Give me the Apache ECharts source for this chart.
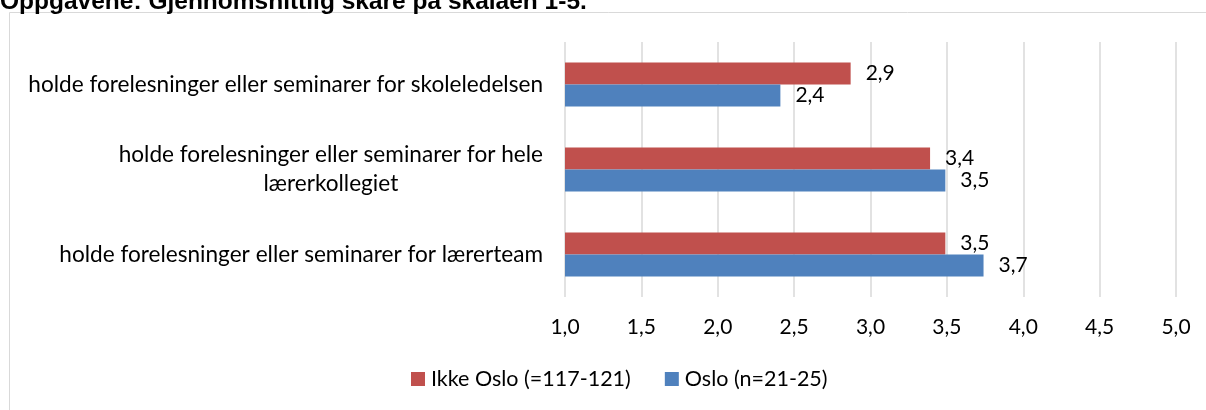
<!DOCTYPE html>
<html>
<head>
<meta charset="utf-8">
<script src="https://cdn.jsdelivr.net/npm/echarts@6/dist/echarts.min.js"></script>
<style>
  html, body { margin: 0; padding: 0; background: #fff; }
  #chart { width: 1206px; height: 410px; }
</style>
</head>
<body>
<div id="chart"></div>
<script>
// Mean scores on a 1–5 scale, Oslo vs. outside Oslo
const titleText = 'Oppgavene: Gjennomsnittlig skåre på skalaen 1-5.';
const categories = [
  'holde forelesninger eller seminarer for skoleledelsen',
  'holde forelesninger eller seminarer for hele\nlærerkollegiet',
  'holde forelesninger eller seminarer for lærerteam'
];
const seriesNames = ['Ikke Oslo (=117-121)', 'Oslo (n=21-25)'];
const ikkeOslo = [2.87, 3.39, 3.49];
const oslo = [2.41, 3.49, 3.74];
const axisTicks = [1, 1.5, 2, 2.5, 3, 3.5, 4, 4.5, 5];

const FONT = 'Lato, "Liberation Sans", sans-serif';
const fmt = v => Number(v).toFixed(1).replace('.', ',');

const chart = echarts.init(document.getElementById('chart'), null, { renderer: 'canvas' });

const labelStyle = {
  show: true,
  position: 'right',
  distance: 15,
  color: '#000',
  fontFamily: FONT,
  fontSize: 21,
  formatter: p => fmt(p.value)
};

chart.setOption({
  animation: false,
  backgroundColor: '#fff',
  graphic: [
    {
      type: 'rect',
      shape: { x: 9.5, y: 12.5, width: 1400, height: 600 },
      style: { fill: 'none', stroke: '#d9d9d9', lineWidth: 1 },
      z: -1
    },
    {
      type: 'text',
      left: 0,
      top: -10,
      style: {
        text: titleText,
        fontFamily: '"Liberation Sans", Arial, sans-serif',
        fontWeight: 'bold',
        fontSize: 24.5,
        fill: '#000'
      }
    }
  ],
  legend: {
    data: seriesNames,
    bottom: 15,
    left: 406,
    itemWidth: 14,
    itemHeight: 14,
    itemGap: 34,
    icon: 'rect',
    textStyle: { fontFamily: FONT, fontSize: 21.5, color: '#000', padding: [0, 0, 0, 1] }
  },
  grid: { left: 565, right: 30, top: 42, bottom: 113 },
  xAxis: {
    type: 'value',
    min: axisTicks[0],
    max: axisTicks[axisTicks.length - 1],
    interval: 0.5,
    axisLine: { show: false },
    axisTick: { show: false },
    splitLine: { show: true, lineStyle: { color: '#d9d9d9', width: 1.5 } },
    axisLabel: {
      margin: 20,
      color: '#000',
      fontFamily: FONT,
      fontSize: 21,
      formatter: v => fmt(v)
    }
  },
  yAxis: {
    type: 'category',
    inverse: true,
    data: categories,
    axisLine: { show: false },
    axisTick: { show: false },
    axisLabel: {
      margin: 22,
      color: '#000',
      fontFamily: FONT,
      fontSize: 22.6,
      lineHeight: 29,
      formatter: v => v.split('\n').map(s => '{c|' + s + '}').join('\n'),
      rich: { c: { align: 'center', fontFamily: FONT, fontSize: 22.6, lineHeight: 29, color: '#000' } }
    }
  },
  series: [
    {
      name: seriesNames[0],
      type: 'bar',
      data: ikkeOslo,
      barCategoryGap: '48%',
      barGap: '0%',
      itemStyle: { color: '#C0504D' },
      label: labelStyle
    },
    {
      name: seriesNames[1],
      type: 'bar',
      data: oslo,
      barCategoryGap: '48%',
      barGap: '0%',
      itemStyle: { color: '#4F81BD' },
      label: labelStyle
    }
  ]
});
</script>
</body>
</html>
